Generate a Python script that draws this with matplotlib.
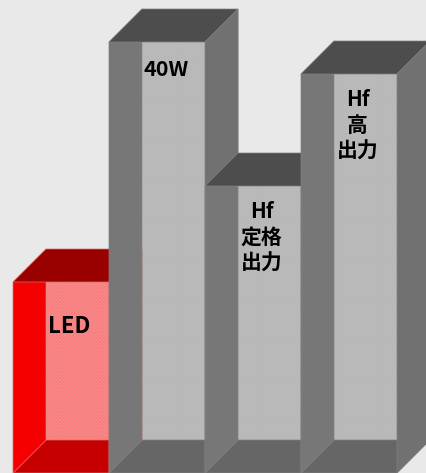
import matplotlib
matplotlib.use("Agg")
import matplotlib.pyplot as plt
from matplotlib.patches import Polygon

plt.rcParams['font.family'] = ['Noto Sans CJK JP', 'DejaVu Sans']
plt.rcParams['hatch.linewidth'] = 0.6

# bar heights (no axis in the original, so pixel units)
labels = ["LED", "40W", "Hf\n定格\n出力", "Hf\n高\n出力"]
values = [191, 431, 287, 399]
label_drop = [33, 17, 15, 15]
label_sizes = [16, 15.5, 15, 15]

bar_width = 96
bar_start = 13
depth = 33

red = {"side": "#f40000", "back": "#fd7878", "hatch": "#f58a8a", "top": "#990000",
       "floor": "#c60000", "right": "#d00000", "edge": "#d87070"}
gray = {"side": "#777777", "back": "#b4b4b4", "hatch": "#bcbcbc", "top": "#4d4d4d",
        "floor": "#666666", "right": "#717171", "edge": "#808080"}
styles = [red, gray, gray, gray]

fig = plt.figure(figsize=(4.26, 4.73), dpi=100, facecolor="#e9e9e9")
ax = fig.add_axes([0, 0, 1, 1])
ax.set_xlim(0, 426)
ax.set_ylim(0, 473)
ax.axis("off")


def face(points, color, edge):
    ax.add_patch(Polygon(points, closed=True, facecolor=color, edgecolor=edge, linewidth=0.5))


for i, value in enumerate(values):
    c = styles[i]
    x0 = bar_start + i * bar_width
    x1 = x0 + bar_width
    # back wall first, the other faces go over it
    ax.bar(x0 + depth, value, width=bar_width, bottom=depth, align="edge",
           color=c["back"], edgecolor=c["hatch"], linewidth=0.4, hatch="xxxxxxxxxx")
    face([(x0, 0), (x1, 0), (x1 + depth, depth), (x0 + depth, depth)], c["floor"], c["edge"])
    face([(x0, 0), (x0 + depth, depth), (x0 + depth, value + depth), (x0, value)], c["side"], c["edge"])
    face([(x0, value), (x0 + depth, value + depth), (x1 + depth, value + depth), (x1, value)], c["top"], c["edge"])
    face([(x1, 0), (x1 + depth, depth), (x1 + depth, value + depth), (x1, value)], c["right"], c["edge"])
    ax.text(x0 + bar_width * 0.59, value - label_drop[i], labels[i], ha="center", va="top",
            fontsize=label_sizes[i], fontweight="bold", color="black", linespacing=1.28)

# the red bar's far edge still shows faintly through the grey one
red_far = bar_start + bar_width + depth
ax.vlines(red_far, depth, values[0] + depth, color="#b08a8a", linewidth=0.6, alpha=0.6, zorder=1.5)

fig.savefig("out.png", dpi=100, facecolor=fig.get_facecolor())
